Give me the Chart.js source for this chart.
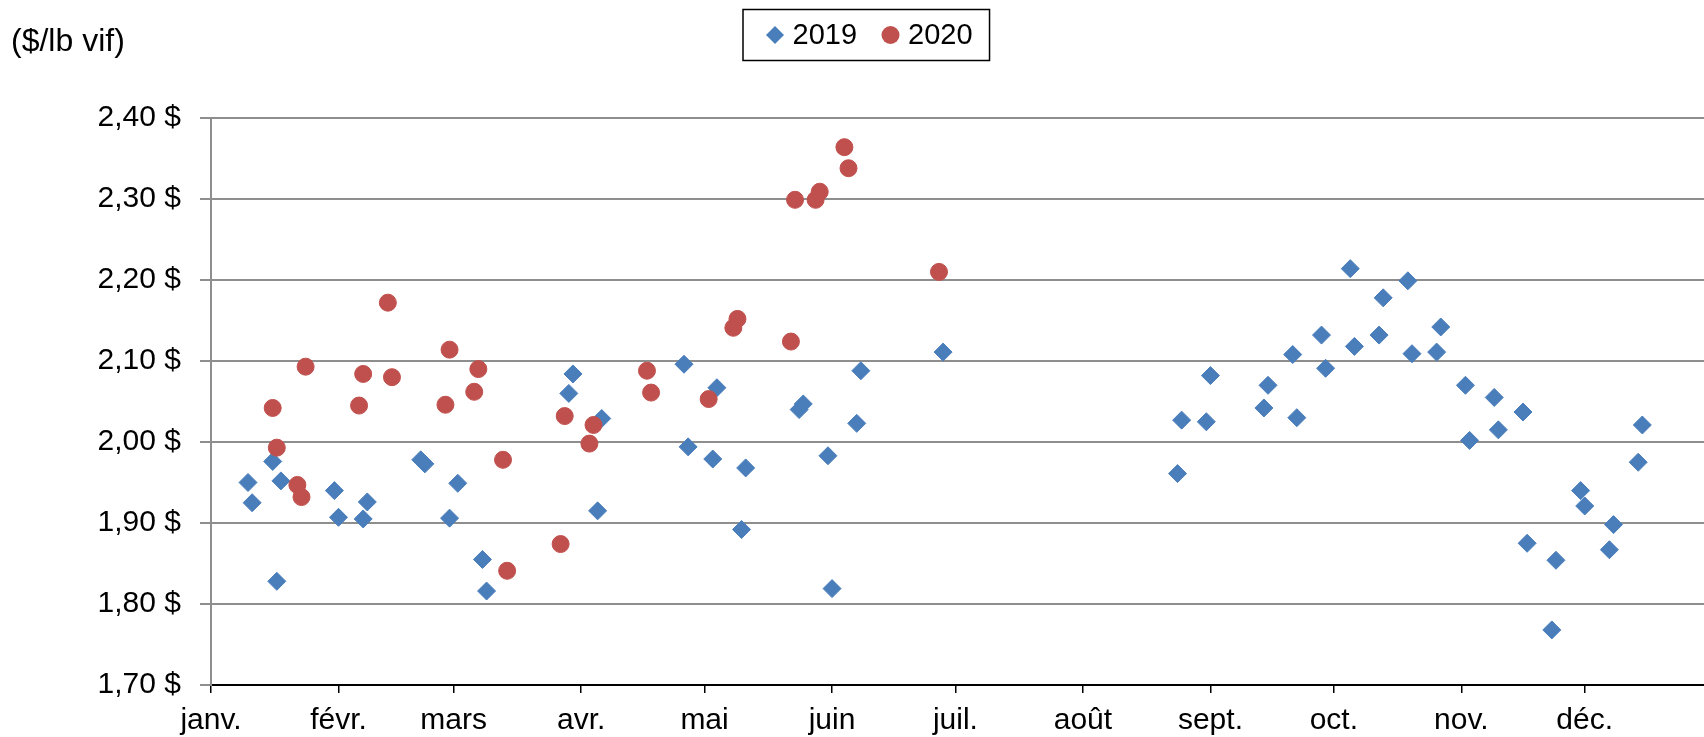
<!DOCTYPE html>
<html>
<head>
<meta charset="utf-8">
<title>Prix 2019 / 2020</title>
<script src="https://cdn.jsdelivr.net/npm/chart.js@4.4.0/dist/chart.umd.min.js"></script>
<style>
  html, body { margin: 0; padding: 0; background: #ffffff; }
  #wrap { width: 1704px; height: 737px; }
</style>
</head>
<body>
<div id="wrap"><canvas id="chart" width="1704" height="737"></canvas></div>
<script>
// day of year (0 = 1 janv.) and price in $/lb vif
var days2019 = [9, 10, 15, 16, 17, 30, 31, 37, 38, 51, 52, 58, 60, 66, 67,
    87, 88, 94, 95, 115, 116, 122, 123, 129, 130, 143, 144, 150, 151, 157, 158, 178,
    235, 236, 242, 243, 256, 257, 263, 264, 270, 271, 277, 278, 284, 285, 291, 292,
    298, 299, 305, 306, 312, 313, 319, 320, 326, 327, 333, 334, 340, 341, 347, 348];
var prices2019 = [1.950, 1.925, 1.976, 1.828, 1.952, 1.940, 1.907, 1.905, 1.926, 1.978, 1.973, 1.906, 1.949, 1.855, 1.816,
    2.060, 2.084, 1.915, 2.029, 2.096, 1.994, 1.979, 2.067, 1.892, 1.968, 2.040, 2.047, 1.983, 1.819, 2.023, 2.088, 2.111,
    1.961, 2.027, 2.025, 2.082, 2.042, 2.070, 2.108, 2.030, 2.132, 2.091, 2.214, 2.118, 2.132, 2.178, 2.199, 2.109,
    2.111, 2.142, 2.070, 2.002, 2.055, 2.015, 2.037, 1.875, 1.768, 1.854, 1.940, 1.921, 1.867, 1.898, 1.975, 2.021];

var days2020 = [15, 16, 21, 22, 23, 36, 37, 43, 44, 57, 58, 64, 65, 71, 72,
    85, 86, 92, 93, 106, 107, 121, 127, 128, 141, 142, 147, 148, 154, 155, 177];
var prices2020 = [2.042, 1.993, 1.947, 1.932, 2.093, 2.045, 2.084, 2.172, 2.080, 2.046, 2.114, 2.062, 2.090, 1.978, 1.841,
    1.874, 2.032, 1.998, 2.021, 2.088, 2.061, 2.053, 2.141, 2.152, 2.124, 2.299, 2.299, 2.309, 2.364, 2.338, 2.210];

var monthStarts = [0, 31, 59, 90, 120, 151, 181, 212, 243, 273, 304, 334];
var monthLabels = ['janv.', 'févr.', 'mars', 'avr.', 'mai', 'juin', 'juil.', 'août', 'sept.', 'oct.', 'nov.', 'déc.'];

var seriesNames = ['2019', '2020'];
var unitLabel = '($/lb vif)';

var colors = {
    blue: '#4a7ebb',
    red: '#c0504d',
    grid: '#8e8e8e'
};

var FONT = '"Liberation Sans", Arial, sans-serif';

var toPoints = function (xs, ys) {
    var pts = [];
    for (var i = 0; i < xs.length; i++) {
        pts.push({ x: xs[i], y: ys[i] });
    }
    return pts;
};

// unit label + boxed legend drawn on top of the chart
var legendBox = {
    id: 'legendBox',
    afterDraw: function (chart) {
        var ctx = chart.ctx;
        ctx.save();
        ctx.textBaseline = 'middle';
        ctx.textAlign = 'left';
        ctx.fillStyle = '#000';
        ctx.font = '32px ' + FONT;
        ctx.fillText(unitLabel, 11, 42);

        ctx.font = '29px ' + FONT;
        var cy = 35;
        var cursor = 766.5;
        var boxLeft = 743;
        var datasets = chart.data.datasets;
        for (var i = 0; i < datasets.length; i++) {
            var ds = datasets[i];
            ctx.fillStyle = ds.backgroundColor;
            ctx.strokeStyle = ds.borderColor;
            Chart.helpers.drawPoint(ctx, { pointStyle: ds.pointStyle, radius: 9, borderWidth: 0, rotation: 0 }, cursor + 8.5, cy);
            ctx.fillStyle = '#000';
            ctx.fillText(ds.label, cursor + 26, cy + 1);
            cursor = cursor + 26 + ctx.measureText(ds.label).width + 25;
        }
        var boxRight = cursor - 25 + 17;
        ctx.lineWidth = 1.5;
        ctx.strokeStyle = '#000';
        ctx.strokeRect(boxLeft, 9.5, boxRight - boxLeft, 51);
        ctx.restore();
    }
};

var config = {
    type: 'scatter',
    data: {
        datasets: [{
            label: seriesNames[0],
            data: toPoints(days2019, prices2019),
            pointStyle: 'rectRot',
            pointRadius: 9,
            pointHoverRadius: 9,
            borderWidth: 1,
            backgroundColor: colors.blue,
            borderColor: colors.blue,
            order: 2
        }, {
            label: seriesNames[1],
            data: toPoints(days2020, prices2020),
            pointStyle: 'circle',
            pointRadius: 8.5,
            pointHoverRadius: 8.5,
            borderWidth: 1,
            backgroundColor: colors.red,
            borderColor: colors.red,
            order: 1
        }]
    },
    options: {
        responsive: false,
        devicePixelRatio: 1,
        animation: false,
        layout: {
            autoPadding: false,
            padding: { top: 118, left: 0, right: 0, bottom: 0 }
        },
        plugins: {
            legend: { display: false },
            tooltip: { enabled: false }
        },
        scales: {
            x: {
                type: 'linear',
                min: 0,
                max: 363,
                afterBuildTicks: function (scale) {
                    scale.ticks = monthStarts.map(function (v) { return { value: v }; });
                },
                afterFit: function (scale) {
                    scale.height = 52;
                },
                ticks: {
                    autoSkip: false,
                    maxRotation: 0,
                    padding: 10,
                    color: '#000',
                    font: { family: FONT, size: 30 },
                    callback: function (value) {
                        var idx = monthStarts.indexOf(value);
                        return idx >= 0 ? monthLabels[idx] : '';
                    }
                },
                grid: {
                    drawOnChartArea: false,
                    drawTicks: true,
                    tickLength: 8,
                    color: '#000',
                    lineWidth: 1.5
                },
                border: { display: true, color: '#000', width: 2 }
            },
            y: {
                min: 1.7,
                max: 2.4,
                afterFit: function (scale) {
                    scale.width = 211;
                },
                ticks: {
                    stepSize: 0.1,
                    padding: 19,
                    color: '#000',
                    font: { family: FONT, size: 30 },
                    callback: function (value) {
                        return value.toFixed(2).replace('.', ',') + ' $';
                    }
                },
                grid: {
                    color: colors.grid,
                    lineWidth: 2,
                    tickLength: 11
                },
                border: { display: true, color: colors.grid, width: 2 }
            }
        }
    },
    plugins: [legendBox]
};

new Chart(document.getElementById('chart'), config);
</script>
</body>
</html>
